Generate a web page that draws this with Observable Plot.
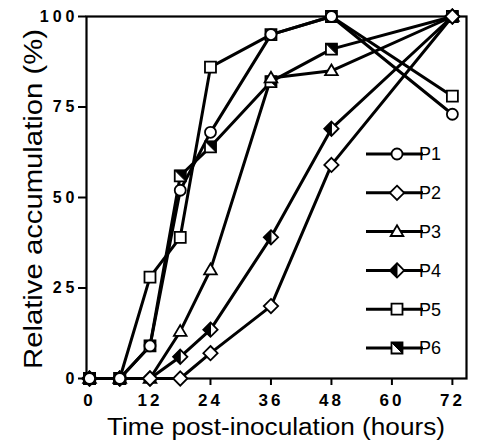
<!DOCTYPE html>
<html><head><meta charset="utf-8">
<script src="https://cdn.jsdelivr.net/npm/d3@7"></script>
<script src="https://cdn.jsdelivr.net/npm/@observablehq/plot@0.6"></script>
<style>
body{margin:0;background:#fff;}
#chart{position:relative;width:480px;height:445px;}
#chart g[aria-label="x-axis tick label"] text{letter-spacing:3px;}
#chart g[aria-label="y-axis tick label"] text{letter-spacing:4px;}
</style></head><body><div id="chart"></div>
<script>
// ---- data ----
const hours = [0, 6, 12, 18, 24, 36, 48, 72];
const seriesNames = ["P1", "P2", "P3", "P4", "P5", "P6"];
const P1 = [0, 0, 9, 52, 68, 95, 100, 73];
const P2 = [0, 0, 0, 0, 7, 20, 59, 100];
const P3 = [0, 0, 0, 13, 30, 83, 85, 100];
const P4 = [0, 0, 0, 6, 13.5, 39, 69, 100];
const P5 = [0, 0, 28, 39, 86, 95, 100, 78];
const P6 = [0, 0, 9, 56, 64, 82, 91, 100];
const xTicks = [0, 12, 24, 36, 48, 60, 72];
const yTicks = [0, 25, 50, 75, 100];
const xLabel = "Time post-inoculation (hours)";
const yLabel = "Relative accumulation (%)";

const valuesBySeries = {P1, P2, P3, P4, P5, P6};
const data = seriesNames.flatMap(s => hours.map((h, i) => ({series: s, hour: h, value: valuesBySeries[s][i]})));

// ---- custom symbols ----
const unit = size => Math.sqrt(size / Math.PI);
const circleSym = {draw(c, s){ const r = unit(s); c.moveTo(r, 0); c.arc(0, 0, r, 0, 2 * Math.PI); c.closePath(); }};
const squareSym = {draw(c, s){ const h = unit(s); c.moveTo(-h, -h); c.lineTo(h, -h); c.lineTo(h, h); c.lineTo(-h, h); c.closePath(); }};
const diamondSym = {draw(c, s){ const d = unit(s) * 1.3; c.moveTo(0, -d); c.lineTo(d, 0); c.lineTo(0, d); c.lineTo(-d, 0); c.closePath(); }};
const triangleSym = {draw(c, s){ const r = unit(s); c.moveTo(0, -r * 1.15); c.lineTo(r * 1.15, r * 0.8); c.lineTo(-r * 1.15, r * 0.8); c.closePath(); }};
const halfDiamondSym = {draw(c, s){ const d = unit(s) * 1.3; c.moveTo(0, -d); c.lineTo(-d, 0); c.lineTo(0, d); c.closePath(); }};
const halfSquareSym = {draw(c, s){ const h = unit(s); c.moveTo(-h, -h); c.lineTo(h, -h); c.lineTo(h, h); c.closePath(); }};

const symbolOf = {P1: circleSym, P2: diamondSym, P3: triangleSym, P4: diamondSym, P5: squareSym, P6: squareSym};
const halfOf = {P4: halfDiamondSym, P6: halfSquareSym};
const R = 5.5;
const drawOrder = ["P5", "P6", "P3", "P4", "P2", "P1"];

const dotMarks = [];
for (const s of drawOrder) {
  const rows = data.filter(d => d.series === s);
  dotMarks.push(Plot.dot(rows, {x: "hour", y: "value", symbol: symbolOf[s], r: R, fill: "white", stroke: "black", strokeWidth: 1.8}));
  if (halfOf[s]) dotMarks.push(Plot.dot(rows, {x: "hour", y: "value", symbol: halfOf[s], r: R, fill: "black", stroke: "black", strokeWidth: 1}));
}

const font = "'Liberation Sans', Arial, Helvetica, sans-serif";
const chart = Plot.plot({
  width: 480, height: 445,
  marginLeft: 86, marginRight: 14, marginTop: 16, marginBottom: 67,
  x: {domain: [-0.6, 74.8]},
  y: {domain: [0, 100]},
  style: {fontFamily: font, background: "white", color: "black"},
  marks: [
    Plot.axisX({ticks: xTicks, tickSize: 7, tickPadding: 8, fontSize: 17, fontWeight: "bold", label: null, strokeWidth: 2}),
    Plot.axisY({ticks: yTicks, tickSize: 8, tickPadding: 0, fontSize: 16, fontWeight: "bold", label: null, strokeWidth: 2}),
    Plot.frame({stroke: "black", strokeWidth: 2.2}),
    Plot.line(data, {x: "hour", y: "value", z: "series", stroke: "black", strokeWidth: 3, strokeLinejoin: "round"}),
    ...dotMarks
  ]
});
document.getElementById("chart").appendChild(chart);

// ---- axis titles and legend ----
const svg = d3.select(chart);
svg.append("text").attr("x", 276).attr("y", 435).attr("text-anchor", "middle")
  .attr("font-family", font).attr("font-size", 23).attr("textLength", 338).attr("lengthAdjust", "spacingAndGlyphs")
  .attr("fill", "black").text(xLabel);
svg.append("text").attr("transform", "translate(42,199) rotate(-90)").attr("text-anchor", "middle")
  .attr("font-family", font).attr("font-size", 25).attr("textLength", 340).attr("lengthAdjust", "spacingAndGlyphs")
  .attr("fill", "black").text(yLabel);

const legend = svg.append("g").attr("transform", "translate(366,154)");
seriesNames.forEach((s, i) => {
  const g = legend.append("g").attr("transform", `translate(0,${i * 38.8})`);
  g.append("line").attr("x1", 0).attr("x2", 57).attr("y1", 0).attr("y2", 0).attr("stroke", "black").attr("stroke-width", 3);
  const size = Math.PI * R * R;
  g.append("path").attr("transform", "translate(31,0)").attr("d", d3.symbol(symbolOf[s], size)())
    .attr("fill", "white").attr("stroke", "black").attr("stroke-width", 1.8);
  if (halfOf[s]) g.append("path").attr("transform", "translate(31,0)").attr("d", d3.symbol(halfOf[s], size)())
    .attr("fill", "black").attr("stroke", "black").attr("stroke-width", 1);
  g.append("text").attr("x", 64).attr("y", 0).attr("dy", "0.36em").attr("font-family", font)
    .attr("font-size", 18).attr("fill", "black").text(s);
});
</script></body></html>
